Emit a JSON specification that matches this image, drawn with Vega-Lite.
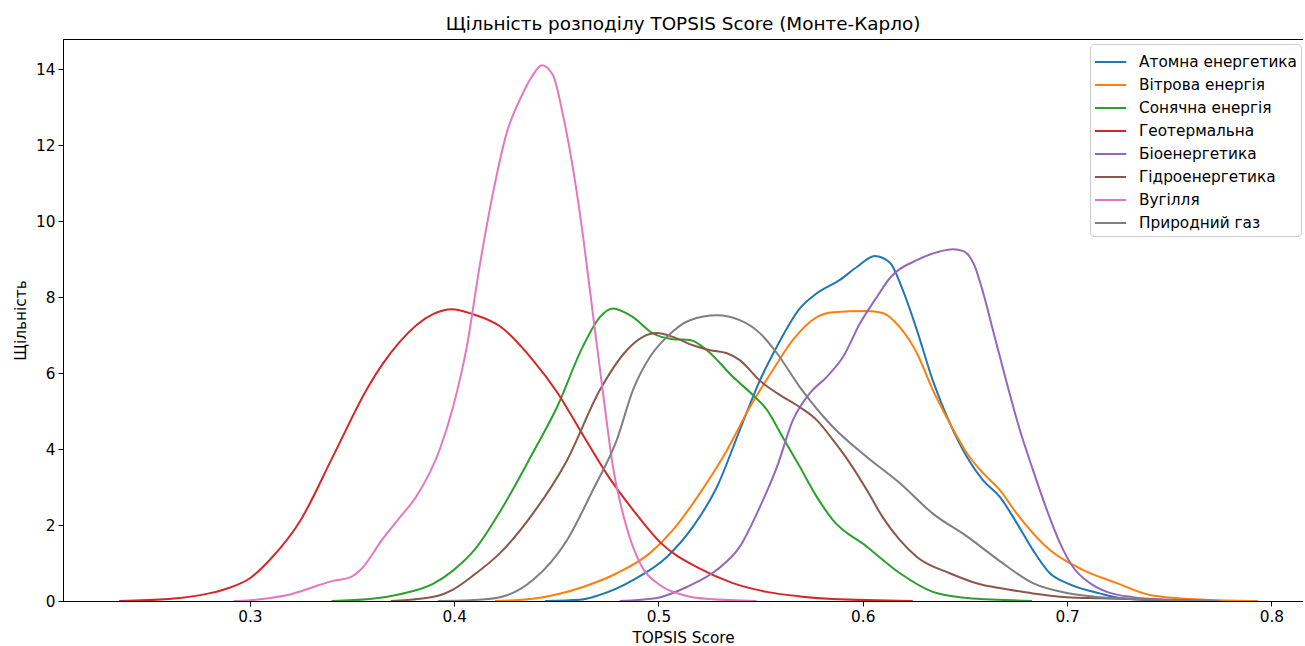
{
  "$schema": "https://vega.github.io/schema/vega-lite/v6.json",
  "autosize": {"type": "none"},
  "padding": {"left": 63, "top": 39, "right": 0, "bottom": 45},
  "width": 1240,
  "height": 562,
  "background": "white",
  "config": {
    "font": "DejaVu Sans",
    "view": {"stroke": "black", "strokeWidth": 1},
    "axis": {"grid": false, "domainColor": "black", "tickColor": "black", "labelColor": "black", "titleColor": "black", "labelFontSize": 15.3, "titleFontSize": 15.3, "titleFontWeight": "normal", "tickSize": 5, "labelPadding": 3, "labelFont": "DejaVu Sans", "titleFont": "DejaVu Sans"}
  },
  "title": {"text": "Щільність розподілу TOPSIS Score (Монте-Карло)", "fontSize": 18.4, "fontWeight": "normal", "font": "DejaVu Sans", "color": "black", "offset": 6},
  "data": {"values": [
    {"s":"Атомна енергетика","x":0.4444,"y":0},
    {"s":"Атомна енергетика","x":0.4615,"y":0.03},
    {"s":"Атомна енергетика","x":0.4713,"y":0.16},
    {"s":"Атомна енергетика","x":0.4875,"y":0.55},
    {"s":"Атомна енергетика","x":0.5041,"y":1.16},
    {"s":"Атомна енергетика","x":0.5168,"y":1.95},
    {"s":"Атомна енергетика","x":0.5286,"y":3.0},
    {"s":"Атомна енергетика","x":0.5398,"y":4.5},
    {"s":"Атомна енергетика","x":0.5496,"y":5.8},
    {"s":"Атомна енергетика","x":0.558,"y":6.7},
    {"s":"Атомна енергетика","x":0.5692,"y":7.7},
    {"s":"Атомна енергетика","x":0.5775,"y":8.1},
    {"s":"Атомна енергетика","x":0.5888,"y":8.45},
    {"s":"Атомна енергетика","x":0.5971,"y":8.79},
    {"s":"Атомна енергетика","x":0.6059,"y":9.08},
    {"s":"Атомна енергетика","x":0.6133,"y":8.9},
    {"s":"Атомна енергетика","x":0.6196,"y":8.18},
    {"s":"Атомна енергетика","x":0.6265,"y":7.13},
    {"s":"Атомна енергетика","x":0.6343,"y":5.8},
    {"s":"Атомна енергетика","x":0.6426,"y":4.68},
    {"s":"Атомна енергетика","x":0.651,"y":3.79},
    {"s":"Атомна енергетика","x":0.6588,"y":3.18},
    {"s":"Атомна енергетика","x":0.6671,"y":2.74},
    {"s":"Атомна енергетика","x":0.6754,"y":2.05},
    {"s":"Атомна енергетика","x":0.6833,"y":1.34},
    {"s":"Атомна енергетика","x":0.6916,"y":0.73},
    {"s":"Атомна енергетика","x":0.6999,"y":0.47},
    {"s":"Атомна енергетика","x":0.716,"y":0.2},
    {"s":"Атомна енергетика","x":0.7258,"y":0.08},
    {"s":"Атомна енергетика","x":0.7454,"y":0.02},
    {"s":"Атомна енергетика","x":0.765,"y":0},

    {"s":"Вітрова енергія","x":0.42,"y":0},
    {"s":"Вітрова енергія","x":0.4385,"y":0.06},
    {"s":"Вітрова енергія","x":0.463,"y":0.37},
    {"s":"Вітрова енергія","x":0.4796,"y":0.73},
    {"s":"Вітрова енергія","x":0.4958,"y":1.26},
    {"s":"Вітрова енергія","x":0.5071,"y":1.87},
    {"s":"Вітрова енергія","x":0.5203,"y":2.84},
    {"s":"Вітрова енергія","x":0.5335,"y":3.97},
    {"s":"Вітрова енергія","x":0.5447,"y":5.1},
    {"s":"Вітрова енергія","x":0.556,"y":6.08},
    {"s":"Вітрова енергія","x":0.5658,"y":6.87},
    {"s":"Вітрова енергія","x":0.5775,"y":7.47},
    {"s":"Вітрова енергія","x":0.5854,"y":7.6},
    {"s":"Вітрова енергія","x":0.602,"y":7.63},
    {"s":"Вітрова енергія","x":0.6098,"y":7.58},
    {"s":"Вітрова енергія","x":0.6182,"y":7.2},
    {"s":"Вітрова енергія","x":0.6265,"y":6.52},
    {"s":"Вітрова енергія","x":0.6343,"y":5.55},
    {"s":"Вітрова енергія","x":0.6426,"y":4.68},
    {"s":"Вітрова енергія","x":0.651,"y":3.89},
    {"s":"Вітрова енергія","x":0.6588,"y":3.37},
    {"s":"Вітрова енергія","x":0.6671,"y":2.92},
    {"s":"Вітрова енергія","x":0.6754,"y":2.3},
    {"s":"Вітрова енергія","x":0.6916,"y":1.34},
    {"s":"Вітрова енергія","x":0.7077,"y":0.82},
    {"s":"Вітрова енергія","x":0.7244,"y":0.47},
    {"s":"Вітрова енергія","x":0.7405,"y":0.16},
    {"s":"Вітрова енергія","x":0.765,"y":0.04},
    {"s":"Вітрова енергія","x":0.7934,"y":0},

    {"s":"Сонячна енергія","x":0.34,"y":0},
    {"s":"Сонячна енергія","x":0.3587,"y":0.05},
    {"s":"Сонячна енергія","x":0.3734,"y":0.18},
    {"s":"Сонячна енергія","x":0.3896,"y":0.45},
    {"s":"Сонячна енергія","x":0.3994,"y":0.8},
    {"s":"Сонячна енергія","x":0.41,"y":1.35},
    {"s":"Сонячна енергія","x":0.4224,"y":2.35},
    {"s":"Сонячна енергія","x":0.4385,"y":3.9},
    {"s":"Сонячна енергія","x":0.4503,"y":5.1},
    {"s":"Сонячна енергія","x":0.463,"y":6.7},
    {"s":"Сонячна енергія","x":0.4713,"y":7.47},
    {"s":"Сонячна енергія","x":0.4777,"y":7.7},
    {"s":"Сонячна енергія","x":0.4875,"y":7.47},
    {"s":"Сонячна енергія","x":0.4973,"y":7.04},
    {"s":"Сонячна енергія","x":0.5071,"y":6.89},
    {"s":"Сонячна енергія","x":0.5154,"y":6.87},
    {"s":"Сонячна енергія","x":0.5237,"y":6.6},
    {"s":"Сонячна енергія","x":0.5364,"y":5.9},
    {"s":"Сонячна енергія","x":0.5462,"y":5.42},
    {"s":"Сонячна енергія","x":0.5531,"y":5.03},
    {"s":"Сонячна енергія","x":0.5609,"y":4.3},
    {"s":"Сонячна енергія","x":0.5692,"y":3.53},
    {"s":"Сонячна енергія","x":0.5775,"y":2.74},
    {"s":"Сонячна енергія","x":0.5854,"y":2.13},
    {"s":"Сонячна енергія","x":0.602,"y":1.43},
    {"s":"Сонячна енергія","x":0.6182,"y":0.73},
    {"s":"Сонячна енергія","x":0.6343,"y":0.24},
    {"s":"Сонячна енергія","x":0.651,"y":0.08},
    {"s":"Сонячна енергія","x":0.6671,"y":0.03},
    {"s":"Сонячна енергія","x":0.6828,"y":0},

    {"s":"Геотермальна","x":0.236,"y":0},
    {"s":"Геотермальна","x":0.26,"y":0.05},
    {"s":"Геотермальна","x":0.28,"y":0.2},
    {"s":"Геотермальна","x":0.29,"y":0.35},
    {"s":"Геотермальна","x":0.30,"y":0.6},
    {"s":"Геотермальна","x":0.31,"y":1.1},
    {"s":"Геотермальна","x":0.3245,"y":2.1},
    {"s":"Геотермальна","x":0.3406,"y":3.8},
    {"s":"Геотермальна","x":0.3573,"y":5.58},
    {"s":"Геотермальна","x":0.365,"y":6.24},
    {"s":"Геотермальна","x":0.373,"y":6.8},
    {"s":"Геотермальна","x":0.3896,"y":7.55},
    {"s":"Геотермальна","x":0.3989,"y":7.68},
    {"s":"Геотермальна","x":0.409,"y":7.55},
    {"s":"Геотермальна","x":0.4224,"y":7.23},
    {"s":"Геотермальна","x":0.4385,"y":6.34},
    {"s":"Геотермальна","x":0.4503,"y":5.5},
    {"s":"Геотермальна","x":0.463,"y":4.37},
    {"s":"Геотермальна","x":0.4747,"y":3.34},
    {"s":"Геотермальна","x":0.4875,"y":2.4},
    {"s":"Геотермальна","x":0.5007,"y":1.55},
    {"s":"Геотермальна","x":0.5203,"y":0.85},
    {"s":"Геотермальна","x":0.5364,"y":0.47},
    {"s":"Геотермальна","x":0.553,"y":0.24},
    {"s":"Геотермальна","x":0.5692,"y":0.12},
    {"s":"Геотермальна","x":0.5854,"y":0.05},
    {"s":"Геотермальна","x":0.6245,"y":0},

    {"s":"Біоенергетика","x":0.481,"y":0},
    {"s":"Біоенергетика","x":0.4992,"y":0.08},
    {"s":"Біоенергетика","x":0.5139,"y":0.37},
    {"s":"Біоенергетика","x":0.5286,"y":0.82},
    {"s":"Біоенергетика","x":0.5398,"y":1.43},
    {"s":"Біоенергетика","x":0.5496,"y":2.47},
    {"s":"Біоенергетика","x":0.558,"y":3.53},
    {"s":"Біоенергетика","x":0.5658,"y":4.76},
    {"s":"Біоенергетика","x":0.5741,"y":5.47},
    {"s":"Біоенергетика","x":0.5824,"y":5.9},
    {"s":"Біоенергетика","x":0.5903,"y":6.42},
    {"s":"Біоенергетика","x":0.5986,"y":7.3},
    {"s":"Біоенергетика","x":0.6069,"y":8.0},
    {"s":"Біоенергетика","x":0.6133,"y":8.5},
    {"s":"Біоенергетика","x":0.6265,"y":8.97},
    {"s":"Біоенергетика","x":0.6377,"y":9.2},
    {"s":"Біоенергетика","x":0.6441,"y":9.26},
    {"s":"Біоенергетика","x":0.6495,"y":9.2},
    {"s":"Біоенергетика","x":0.6545,"y":8.85},
    {"s":"Біоенергетика","x":0.6590,"y":8.1},
    {"s":"Біоенергетика","x":0.6637,"y":7.13},
    {"s":"Біоенергетика","x":0.6705,"y":5.74},
    {"s":"Біоенергетика","x":0.6769,"y":4.5},
    {"s":"Біоенергетика","x":0.6833,"y":3.45},
    {"s":"Біоенергетика","x":0.6901,"y":2.4},
    {"s":"Біоенергетика","x":0.6965,"y":1.53},
    {"s":"Біоенергетика","x":0.7028,"y":0.9},
    {"s":"Біоенергетика","x":0.7112,"y":0.47},
    {"s":"Біоенергетика","x":0.7195,"y":0.24},
    {"s":"Біоенергетика","x":0.7322,"y":0.1},
    {"s":"Біоенергетика","x":0.7503,"y":0.03},
    {"s":"Біоенергетика","x":0.765,"y":0},

    {"s":"Гідроенергетика","x":0.369,"y":0},
    {"s":"Гідроенергетика","x":0.3832,"y":0.06},
    {"s":"Гідроенергетика","x":0.393,"y":0.15},
    {"s":"Гідроенергетика","x":0.3994,"y":0.3},
    {"s":"Гідроенергетика","x":0.41,"y":0.7},
    {"s":"Гідроенергетика","x":0.4224,"y":1.26},
    {"s":"Гідроенергетика","x":0.4385,"y":2.3},
    {"s":"Гідроенергетика","x":0.4552,"y":3.7},
    {"s":"Гідроенергетика","x":0.4713,"y":5.55},
    {"s":"Гідроенергетика","x":0.4845,"y":6.6},
    {"s":"Гідроенергетика","x":0.4924,"y":6.95},
    {"s":"Гідроенергетика","x":0.4992,"y":7.05},
    {"s":"Гідроенергетика","x":0.5071,"y":6.95},
    {"s":"Гідроенергетика","x":0.5168,"y":6.73},
    {"s":"Гідроенергетика","x":0.5252,"y":6.6},
    {"s":"Гідроенергетика","x":0.5335,"y":6.52},
    {"s":"Гідроенергетика","x":0.5398,"y":6.34},
    {"s":"Гідроенергетика","x":0.5496,"y":5.8},
    {"s":"Гідроенергетика","x":0.558,"y":5.47},
    {"s":"Гідроенергетика","x":0.5692,"y":5.1},
    {"s":"Гідроенергетика","x":0.5775,"y":4.76},
    {"s":"Гідроенергетика","x":0.5854,"y":4.24},
    {"s":"Гідроенергетика","x":0.5937,"y":3.63},
    {"s":"Гідроенергетика","x":0.602,"y":2.92},
    {"s":"Гідроенергетика","x":0.6098,"y":2.2},
    {"s":"Гідроенергетика","x":0.6182,"y":1.6},
    {"s":"Гідроенергетика","x":0.6265,"y":1.16},
    {"s":"Гідроенергетика","x":0.6426,"y":0.73},
    {"s":"Гідроенергетика","x":0.6588,"y":0.42},
    {"s":"Гідроенергетика","x":0.6671,"y":0.34},
    {"s":"Гідроенергетика","x":0.6833,"y":0.2},
    {"s":"Гідроенергетика","x":0.6999,"y":0.1},
    {"s":"Гідроенергетика","x":0.716,"y":0.07},
    {"s":"Гідроенергетика","x":0.7405,"y":0.04},
    {"s":"Гідроенергетика","x":0.7748,"y":0},

    {"s":"Вугілля","x":0.292,"y":0},
    {"s":"Вугілля","x":0.30,"y":0.02},
    {"s":"Вугілля","x":0.31,"y":0.08},
    {"s":"Вугілля","x":0.32,"y":0.18},
    {"s":"Вугілля","x":0.33,"y":0.35},
    {"s":"Вугілля","x":0.3406,"y":0.53},
    {"s":"Вугілля","x":0.349,"y":0.62},
    {"s":"Вугілля","x":0.3538,"y":0.8},
    {"s":"Вугілля","x":0.3651,"y":1.64},
    {"s":"Вугілля","x":0.3734,"y":2.2},
    {"s":"Вугілля","x":0.3817,"y":2.77},
    {"s":"Вугілля","x":0.393,"y":4.0},
    {"s":"Вугілля","x":0.3994,"y":5.1},
    {"s":"Вугілля","x":0.4062,"y":6.7},
    {"s":"Вугілля","x":0.4126,"y":8.86},
    {"s":"Вугілля","x":0.419,"y":10.74},
    {"s":"Вугілля","x":0.4258,"y":12.34},
    {"s":"Вугілля","x":0.4322,"y":13.2},
    {"s":"Вугілля","x":0.4385,"y":13.84},
    {"s":"Вугілля","x":0.4428,"y":14.1},
    {"s":"Вугілля","x":0.4483,"y":13.84},
    {"s":"Вугілля","x":0.4532,"y":12.8},
    {"s":"Вугілля","x":0.4581,"y":11.4},
    {"s":"Вугілля","x":0.463,"y":9.63},
    {"s":"Вугілля","x":0.4679,"y":7.55},
    {"s":"Вугілля","x":0.4728,"y":5.5},
    {"s":"Вугілля","x":0.4777,"y":3.53},
    {"s":"Вугілля","x":0.4845,"y":1.92},
    {"s":"Вугілля","x":0.4909,"y":1.0},
    {"s":"Вугілля","x":0.5007,"y":0.42},
    {"s":"Вугілля","x":0.5119,"y":0.16},
    {"s":"Вугілля","x":0.525,"y":0.05},
    {"s":"Вугілля","x":0.548,"y":0},

    {"s":"Природний газ","x":0.392,"y":0},
    {"s":"Природний газ","x":0.4077,"y":0.02},
    {"s":"Природний газ","x":0.4224,"y":0.1},
    {"s":"Природний газ","x":0.4385,"y":0.55},
    {"s":"Природний газ","x":0.4552,"y":1.6},
    {"s":"Природний газ","x":0.4679,"y":2.92},
    {"s":"Природний газ","x":0.4796,"y":4.24},
    {"s":"Природний газ","x":0.4875,"y":5.55},
    {"s":"Природний газ","x":0.4958,"y":6.42},
    {"s":"Природний газ","x":0.5041,"y":6.95},
    {"s":"Природний газ","x":0.5154,"y":7.39},
    {"s":"Природний газ","x":0.5286,"y":7.52},
    {"s":"Природний газ","x":0.5398,"y":7.39},
    {"s":"Природний газ","x":0.5496,"y":7.05},
    {"s":"Природний газ","x":0.558,"y":6.52},
    {"s":"Природний газ","x":0.5692,"y":5.63},
    {"s":"Природний газ","x":0.5854,"y":4.58},
    {"s":"Природний газ","x":0.602,"y":3.79},
    {"s":"Природний газ","x":0.6182,"y":3.1},
    {"s":"Природний газ","x":0.6343,"y":2.3},
    {"s":"Природний газ","x":0.651,"y":1.7},
    {"s":"Природний газ","x":0.6671,"y":1.05},
    {"s":"Природний газ","x":0.6833,"y":0.47},
    {"s":"Природний газ","x":0.6999,"y":0.21},
    {"s":"Природний газ","x":0.716,"y":0.1},
    {"s":"Природний газ","x":0.7405,"y":0.04},
    {"s":"Природний газ","x":0.7748,"y":0}
  ]},
  "mark": {"type": "line", "strokeWidth": 2, "interpolate": "monotone", "clip": true},
  "encoding": {
    "x": {"field": "x", "type": "quantitative", "title": "TOPSIS Score",
      "scale": {"domain": [0.2085, 0.8155], "nice": false, "zero": false},
      "axis": {"values": [0.3, 0.4, 0.5, 0.6, 0.7, 0.8], "format": ".1f", "titlePadding": 6}},
    "y": {"field": "y", "type": "quantitative", "title": "Щільність",
      "scale": {"domain": [0, 14.79], "nice": false},
      "axis": {"values": [0, 2, 4, 6, 8, 10, 12, 14], "titlePadding": 7}},
    "color": {"field": "s", "type": "nominal", "title": null,
      "scale": {"domain": ["Атомна енергетика","Вітрова енергія","Сонячна енергія","Геотермальна","Біоенергетика","Гідроенергетика","Вугілля","Природний газ"],
        "range": ["#1f77b4","#ff7f0e","#2ca02c","#d62728","#9467bd","#8c564b","#e377c2","#7f7f7f"]},
      "legend": {"orient": "none", "legendX": 1027, "legendY": 5, "symbolType": "M-1,0H1.4", "symbolSize": 676, "symbolStrokeWidth": 2,
        "labelFontSize": 15.3, "labelFont": "DejaVu Sans", "labelColor": "black", "labelOffset": 17,
        "fillColor": "white", "strokeColor": "#cccccc", "cornerRadius": 4, "padding": 4, "rowPadding": 0}},
    "order": {"field": "x", "type": "quantitative"}
  }
}
